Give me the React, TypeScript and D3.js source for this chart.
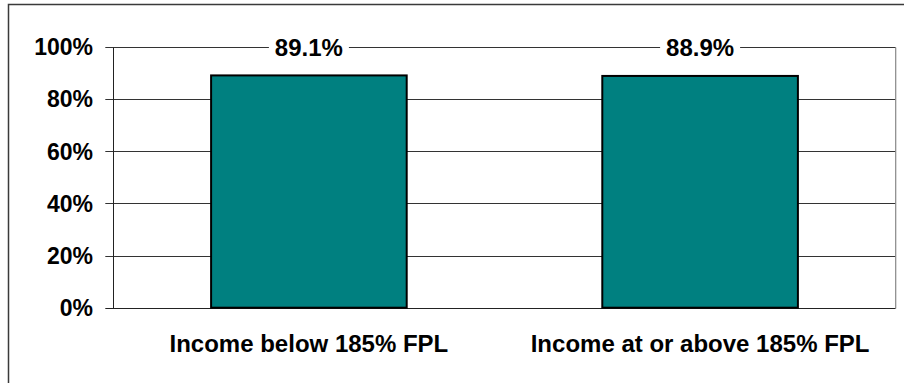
import React from "react";
import * as d3 from "d3";

const categories = ["Income below 185% FPL", "Income at or above 185% FPL"];
const values = [89.1, 88.9];
const valueLabels = ["89.1%", "88.9%"];
const yTicks = [0, 20, 40, 60, 80, 100];

const W = 904;
const H = 383;
const plot = { left: 113.3, right: 895.7, top: 47, bottom: 307.7 };
const FONT = "'Liberation Sans', Arial, sans-serif";

export default function App() {
  const x = d3
    .scaleBand<string>()
    .domain(categories)
    .range([plot.left, plot.right])
    .paddingInner(0.5)
    .paddingOuter(0.25);
  const y = d3.scaleLinear().domain([0, 100]).range([plot.bottom, plot.top]);

  return (
    <svg
      width={W}
      height={H}
      style={{ position: "absolute", left: 0, top: 0, background: "#fff" }}
    >
      <rect x={0} y={0} width={W} height={H} fill="#fff" />
      {/* outer frame */}
      <rect x={8.5} y={4.5} width={2000} height={2000} fill="none" stroke="#3a3a3a" strokeWidth={1.5} />
      {/* gridlines */}
      {yTicks.map((t) => (
        <line
          key={"g" + t}
          x1={plot.left - 8}
          x2={plot.right}
          y1={Math.round(y(t)) + 0.5}
          y2={Math.round(y(t)) + 0.5}
          stroke={t === 0 ? "#222" : "#333"}
          strokeWidth={1}
        />
      ))}
      {/* right border of plot */}
      <line x1={plot.right} x2={plot.right} y1={Math.round(plot.top) + 0.5} y2={Math.round(plot.bottom) + 0.5} stroke="#888" strokeWidth={1.2} />
      {/* y axis */}
      <line x1={Math.round(plot.left) + 0.5} x2={Math.round(plot.left) + 0.5} y1={Math.round(plot.top) + 0.5} y2={Math.round(plot.bottom) + 0.5} stroke="#222" strokeWidth={1} />
      {yTicks.map((t) => (
        <text
          key={"t" + t}
          x={93}
          y={y(t)}
          dy="0.36em"
          textAnchor="end"
          fontFamily={FONT}
          fontWeight="bold"
          fontSize={23}
          fill="#000"
        >
          {t}%
        </text>
      ))}
      {/* bars */}
      {categories.map((c, i) => (
        <rect
          key={c}
          x={x(c)!}
          y={y(values[i])}
          width={x.bandwidth()}
          height={y(0) - y(values[i])}
          fill="#008080"
          stroke="#000"
          strokeWidth={2}
        />
      ))}
      {/* value labels */}
      {categories.map((c, i) => {
        const cx = x(c)! + x.bandwidth() / 2;
        return (
          <g key={"v" + c}>
            <rect x={cx - 40} y={plot.top - 10} width={80} height={20} fill="#fff" />
            <text
              x={cx}
              y={plot.top}
              dy="0.36em"
              textAnchor="middle"
              fontFamily={FONT}
              fontWeight="bold"
              fontSize={24}
              fill="#000"
            >
              {valueLabels[i]}
            </text>
          </g>
        );
      })}
      {/* category labels */}
      {categories.map((c) => (
        <text
          key={"c" + c}
          x={x(c)! + x.bandwidth() / 2}
          y={351.7}
          textAnchor="middle"
          fontFamily={FONT}
          fontWeight="bold"
          fontSize={24}
          fill="#000"
        >
          {c}
        </text>
      ))}
    </svg>
  );
}
